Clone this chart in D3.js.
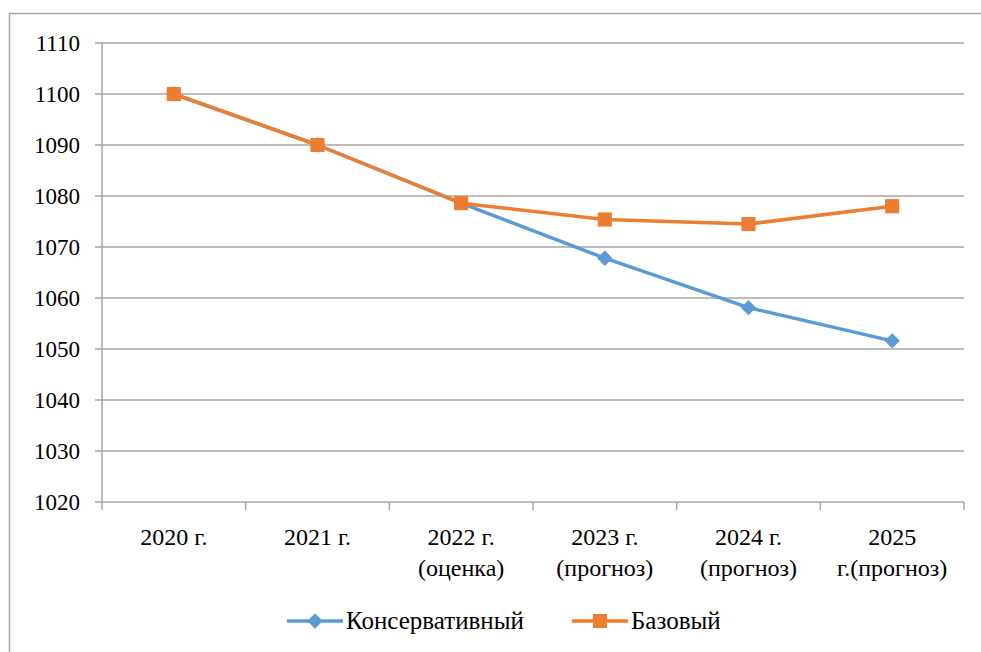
<!DOCTYPE html>
<html>
<head>
<meta charset="utf-8">
<script src="https://cdn.jsdelivr.net/npm/d3@7"></script>
<style>
  body { margin: 0; background: #fff; }
</style>
</head>
<body>
<svg width="981" height="652" font-family="'Liberation Serif', 'Times New Roman', Times, 'DejaVu Serif', serif"></svg>
<script>
// chart data
const categories = [["2020 г."], ["2021 г."], ["2022 г.", "(оценка)"], ["2023 г.", "(прогноз)"], ["2024 г.", "(прогноз)"], ["2025", "г.(прогноз)"]];
const conservative = [1100, 1090, 1078.6, 1067.8, 1058.1, 1051.6];
const base = [1100, 1090, 1078.6, 1075.4, 1074.5, 1078.0];
const yTicks = [1020, 1030, 1040, 1050, 1060, 1070, 1080, 1090, 1100, 1110];
const seriesNames = ["Консервативный", "Базовый"];

const svg = d3.select("svg"),
  blue = "#5B9BD5",
  orange = "#ED7D31",
  grid = "#A6A6A6";

// outer frame
svg.append("rect")
  .attr("x", 9.5).attr("y", 13.5)
  .attr("width", 980).attr("height", 660)
  .attr("fill", "none").attr("stroke", "#A6A6A6").attr("stroke-width", 1.5);

const x = d3.scaleBand()
  .domain(d3.range(categories.length))
  .range([102, 964]);

const y = d3.scaleLinear()
  .domain([1020, 1110])
  .range([502, 43]);

// gridlines + y ticks
svg.append("g").selectAll("line")
  .data(yTicks)
  .enter().append("line")
  .attr("x1", 95).attr("x2", 964)
  .attr("y1", d => y(d)).attr("y2", d => y(d))
  .attr("stroke", grid).attr("stroke-width", 1.5);

svg.append("g").selectAll("text")
  .data(yTicks)
  .enter().append("text")
  .attr("x", 80).attr("y", d => y(d) + 8)
  .attr("text-anchor", "end")
  .attr("font-size", 23)
  .text(d => d);

// y axis line
svg.append("line")
  .attr("x1", 102).attr("x2", 102)
  .attr("y1", y(1110)).attr("y2", y(1020))
  .attr("stroke", grid).attr("stroke-width", 1.5);

// x axis ticks
svg.append("g").selectAll("line")
  .data(d3.range(categories.length + 1))
  .enter().append("line")
  .attr("x1", d => 102 + d * x.bandwidth()).attr("x2", d => 102 + d * x.bandwidth())
  .attr("y1", y(1020)).attr("y2", y(1020) + 8)
  .attr("stroke", grid).attr("stroke-width", 1.5);

// category labels
const cat = svg.append("g").selectAll("text")
  .data(categories)
  .enter().append("text")
  .attr("text-anchor", "middle")
  .attr("font-size", 24);
cat.each(function(lines, i) {
  d3.select(this).selectAll("tspan")
    .data(lines)
    .enter().append("tspan")
    .attr("x", x(i) + x.bandwidth() / 2)
    .attr("y", (d, j) => 545 + j * 31)
    .text(d => d);
});

const line = d3.line()
  .x((d, i) => x(i) + x.bandwidth() / 2)
  .y(d => y(d));

// conservative series
svg.append("path")
  .datum(conservative)
  .attr("d", line)
  .attr("fill", "none").attr("stroke", blue).attr("stroke-width", 3.5)
  .attr("stroke-linejoin", "round");

const diamond = d3.symbol().type(d3.symbolDiamond2).size(150);
const square = d3.symbol().type(d3.symbolSquare).size(200);

svg.append("g").selectAll("path")
  .data(conservative)
  .enter().append("path")
  .attr("d", diamond)
  .attr("transform", (d, i) => "translate(" + (x(i) + x.bandwidth() / 2) + "," + y(d) + ")")
  .attr("fill", blue);

// base series
svg.append("path")
  .datum(base)
  .attr("d", line)
  .attr("fill", "none").attr("stroke", orange).attr("stroke-width", 3.5)
  .attr("stroke-linejoin", "round");

svg.append("g").selectAll("path")
  .data(base)
  .enter().append("path")
  .attr("d", square)
  .attr("transform", (d, i) => "translate(" + (x(i) + x.bandwidth() / 2) + "," + y(d) + ")")
  .attr("fill", orange);

// legend
const legendX = [287, 572];
const legendColors = [blue, orange];
const legendSymbols = [diamond, square];
const lg = svg.append("g").selectAll("g")
  .data(seriesNames)
  .enter().append("g")
  .attr("transform", (d, i) => "translate(" + legendX[i] + ",621)");
lg.append("line")
  .attr("x1", 0).attr("x2", 56)
  .attr("stroke", (d, i) => legendColors[i]).attr("stroke-width", 3.5);
lg.append("path")
  .attr("d", (d, i) => legendSymbols[i]())
  .attr("transform", "translate(28,0)")
  .attr("fill", (d, i) => legendColors[i]);
lg.append("text")
  .attr("x", 59).attr("y", 8)
  .attr("font-size", 25)
  .text(d => d);
</script>
</body>
</html>
